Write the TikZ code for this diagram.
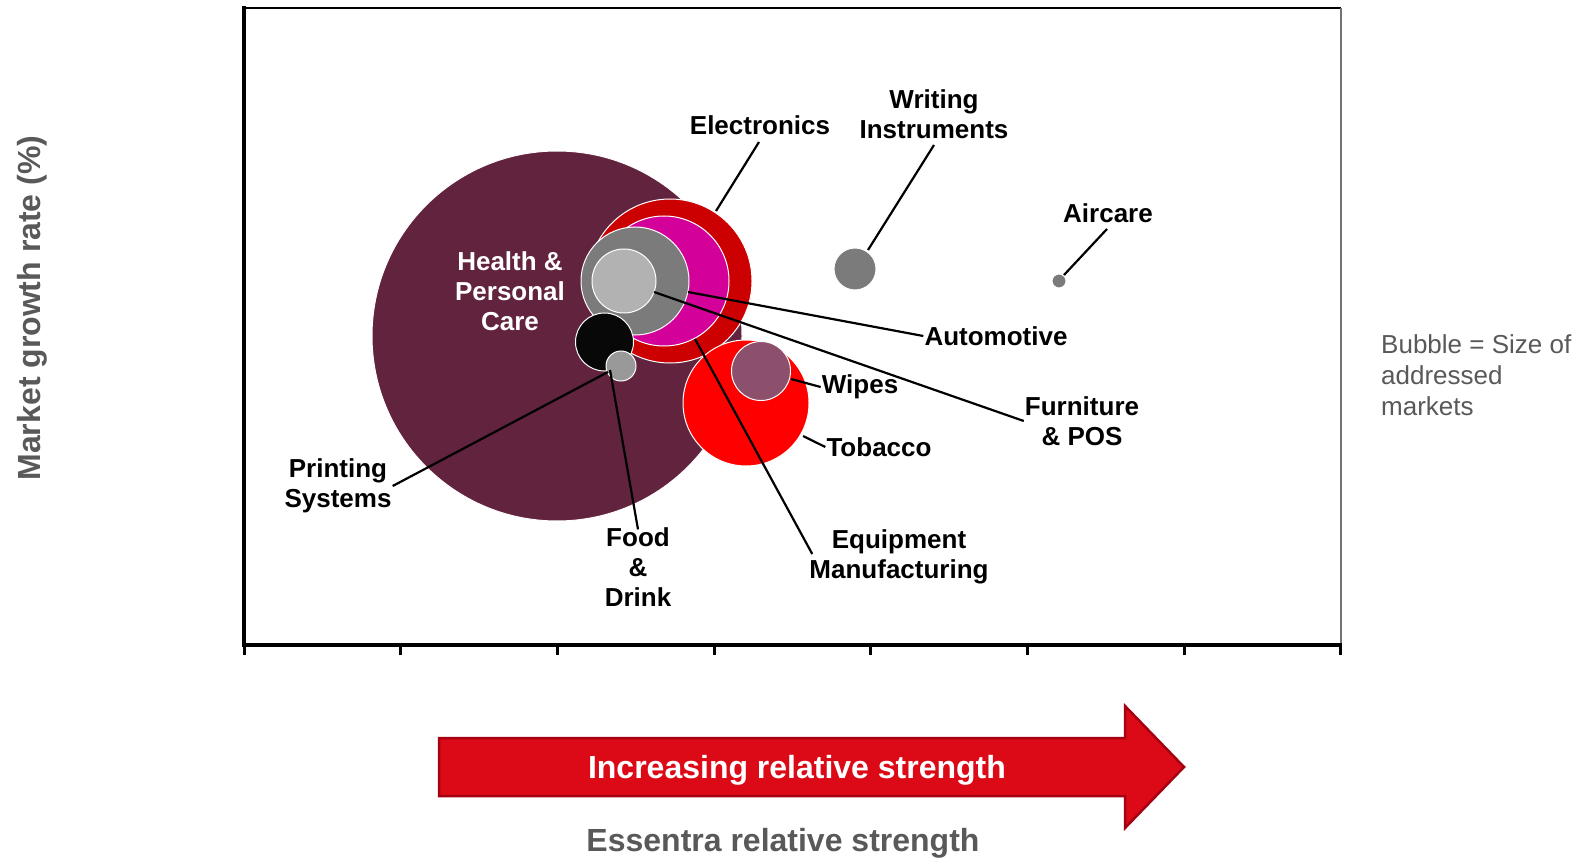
\documentclass[tikz,border=0pt]{standalone}
\usepackage{fontspec}
\setmainfont{Liberation Sans}
\definecolor{hpc}{HTML}{62233F}
\definecolor{elec}{HTML}{CC0000}
\definecolor{mag}{HTML}{D4009A}
\definecolor{dgray}{HTML}{7B7B7B}
\definecolor{lgray}{HTML}{B2B2B2}
\definecolor{blk}{HTML}{080808}
\definecolor{sgray}{HTML}{999999}
\definecolor{wipes}{HTML}{8C4F6C}
\definecolor{tob}{HTML}{FF0000}
\definecolor{txtgray}{HTML}{595959}
\definecolor{arrfill}{HTML}{DC0A17}
\definecolor{arredge}{HTML}{A50012}
\begin{document}
\begin{tikzpicture}[x=1pt,y=-1pt,
  bub/.style={circle, draw=white, line width=1pt, inner sep=0pt},
  lbl/.style={font=\fontsize{26}{30}\selectfont\bfseries, align=center, inner sep=0pt},
  lead/.style={line width=2.2pt, black},
  axisline/.style={line width=3.3pt, black}]
\useasboundingbox[fill=white] (0,0) rectangle (1589,858);
% frame
\draw[line width=1.5pt] (244,8) -- (1341,8);
\draw[black!55, line width=2pt] (1341,8) -- (1341,645);
\draw[axisline] (244,6.5) -- (244,645) -- (1342,645);
\foreach \i in {0,...,7} \draw[line width=3pt] (244+\i*156.71,645) -- (244+\i*156.71,655);
% bubbles
\node[bub, fill=hpc, minimum size=370pt] (hpcB) at (557,336) {};
\node[bub, fill=elec, minimum size=164pt] (elecB) at (670,281) {};
\node[bub, fill=mag, minimum size=130pt] (magB) at (664,281) {};
\node[bub, fill=dgray, minimum size=108pt] (autoB) at (635,281) {};
\node[bub, fill=lgray, minimum size=64pt] (furnB) at (624,281) {};
\node[bub, fill=blk, minimum size=58pt] (printB) at (604.5,342) {};
\node[bub, fill=sgray, minimum size=30pt] (foodB) at (621,366) {};
\node[bub, fill=tob, minimum size=126pt] (tobB) at (746,403) {};
\node[bub, fill=wipes, minimum size=59pt] (wipesB) at (761,371) {};
\node[bub, fill=dgray, minimum size=42pt] (writB) at (855,269) {};
\node[bub, fill=dgray, minimum size=14pt] (airB) at (1059,281) {};
% labels
\node[lbl] (elecL) at (760,125) {Electronics};
\node[lbl] (writL) at (934,114) {Writing\\Instruments};
\node[lbl] (airL) at (1108,213) {Aircare};
\node[lbl, text=white] (hpcL) at (510,291) {Health \&\\Personal\\Care};
\node[lbl] (autoL) at (996,336) {Automotive};
\node[lbl] (wipesL) at (860,387) {Wipes};
\node[lbl] (furnL) at (1082,421) {Furniture\\\& POS};
\node[lbl] (tobL) at (879,447) {Tobacco};
\node[lbl] (printL) at (338,486) {Printing\\Systems};
\node[lbl] (foodL) at (638,567) {Food\\\&\\Drink};
\node[lbl] (equipL) at (899,557) {Equipment\\Manufacturing};
% leader line ends
\coordinate (elecS) at (716,211);
\coordinate (elecE) at (759,142);
\coordinate (writS) at (868,250);
\coordinate (writE) at (934,145);
\coordinate (airS) at (1064,275);
\coordinate (airE) at (1107,229);
\coordinate (autoS) at (688,292);
\coordinate (furnS) at (654,292);
\coordinate (equipS) at (695,339);
\coordinate (wipesS) at (791,379);
\coordinate (tobS) at (803,436);
\coordinate (printS) at (608,372);
\coordinate (foodS) at (610,370);
\draw[lead] (elecS) -- (elecE);
\draw[lead] (writS) -- (writE);
\draw[lead] (airS) -- (airE);
\draw[lead] (autoS) -- ([xshift=-1pt]autoL.west);
\draw[lead] (furnS) -- ([xshift=-1pt]furnL.west);
\draw[lead] (equipS) -- ([xshift=3pt,yshift=3pt]equipL.west);
\draw[lead] (wipesS) -- ([xshift=-1pt]wipesL.west);
\draw[lead] (tobS) -- ([xshift=-1pt]tobL.west);
\draw[lead] (printS) -- ([xshift=1pt]printL.east);
\draw[lead] (foodS) -- ([yshift=-2pt]foodL.north);
% arrow
\draw[fill=arrfill, draw=arredge, line width=2.5pt, line join=miter]
  (439,738) -- (1125,738) -- (1125,706) -- (1184,767) -- (1125,828) -- (1125,796) -- (439,796) -- cycle;
\node[font=\fontsize{32}{38}\selectfont\bfseries, text=white, anchor=base, inner sep=0pt] (arrT) at (797,778) {Increasing relative strength};
\node[font=\fontsize{32}{38}\selectfont\bfseries, text=txtgray, anchor=base, inner sep=0pt] (xT) at (783,851) {Essentra relative strength};
\node[font=\fontsize{32}{38}\selectfont\bfseries, text=txtgray, anchor=base, rotate=90, inner sep=0pt] (yT) at (40,308) {Market growth rate (\%)};
\node[font=\fontsize{26}{31}\selectfont, text=txtgray, align=left, anchor=north west, inner sep=0pt] (legT) at (1381,334) {Bubble = Size of\\addressed\\markets};
\end{tikzpicture}
\end{document}
